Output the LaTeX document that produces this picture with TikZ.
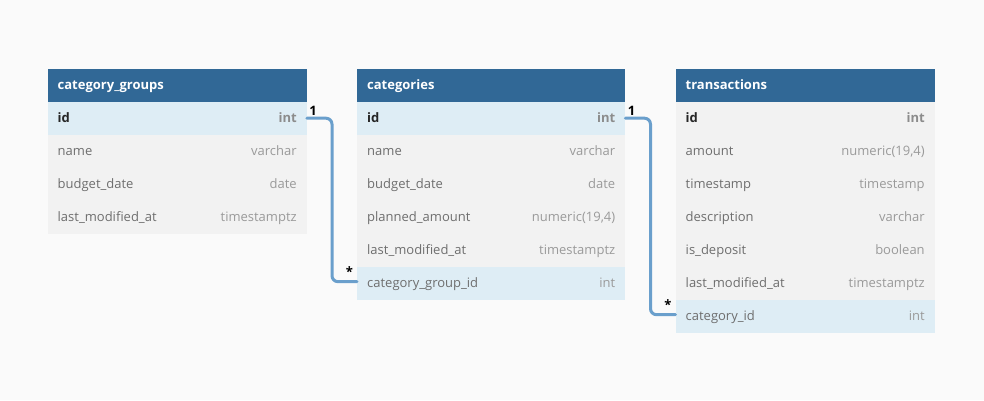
\documentclass[tikz,border=0pt]{standalone}
\usepackage{fontspec}
\setmainfont{Open Sans}
\definecolor{bgcol}{HTML}{FAFAFA}
\definecolor{headcol}{HTML}{316896}
\definecolor{rowcol}{HTML}{F2F2F2}
\definecolor{keycol}{HTML}{DEEDF5}
\definecolor{fieldcol}{HTML}{6E6E6E}
\definecolor{typecol}{HTML}{9A9A9A}
\definecolor{relcol}{HTML}{6A9FCC}
\tikzset{
  tblhead/.style={anchor=north west,inner sep=0pt,minimum width=#1,minimum height=32.5pt,fill=headcol},
  tblrow/.style={anchor=north west,inner sep=0pt,minimum width=#1,minimum height=33pt,fill=rowcol},
  tblkey/.style={tblrow=#1,fill=keycol},
  headtxt/.style={anchor=west,inner sep=0pt,text height=10pt,text depth=2pt,text=white,font=\fontsize{13}{15}\selectfont\bfseries},
  fieldtxt/.style={anchor=west,inner sep=0pt,text height=10pt,text depth=2pt,text=fieldcol,font=\fontsize{13}{15}\selectfont},
  typetxt/.style={anchor=east,inner sep=0pt,text height=10pt,text depth=2pt,text=typecol,font=\fontsize{13}{15}\selectfont},
  idtxt/.style={fieldtxt,text=black!85,font=\fontsize{13}{15}\selectfont\bfseries},
  idtype/.style={typetxt,text=black!45,font=\fontsize{13}{15}\selectfont\bfseries},
  rel/.style={relcol,line width=3pt,rounded corners=6pt},
  card/.style={inner sep=0pt,text=black,font=\fontsize{13}{15}\selectfont\bfseries}
}
\begin{document}
\begin{tikzpicture}[x=1pt,y=-1pt,line cap=round,line join=round]
\fill[bgcol] (0,0) rectangle (984,400);
\useasboundingbox (0,0) rectangle (984,400);
% category_groups
\node[tblhead=259pt] (cg) at (47.5,69) {};
\node[headtxt] (cg-t) at ([xshift=10pt]cg.west) {category\_groups};
\node[tblkey=259pt] (cg-id) at (47.5,101.5) {};
\node[idtxt] (cg-idf) at ([xshift=10pt]cg-id.west) {id};
\node[idtype] (cg-idt) at ([xshift=-10pt]cg-id.east) {int};
\node[tblrow=259pt] (cg-name) at (47.5,134.5) {};
\node[fieldtxt] (cg-namef) at ([xshift=10pt]cg-name.west) {name};
\node[typetxt] (cg-namet) at ([xshift=-10pt]cg-name.east) {varchar};
\node[tblrow=259pt] (cg-date) at (47.5,167.5) {};
\node[fieldtxt] (cg-datef) at ([xshift=10pt]cg-date.west) {budget\_date};
\node[typetxt] (cg-datet) at ([xshift=-10pt]cg-date.east) {date};
\node[tblrow=259pt] (cg-mod) at (47.5,200.5) {};
\node[fieldtxt] (cg-modf) at ([xshift=10pt]cg-mod.west) {last\_modified\_at};
\node[typetxt] (cg-modt) at ([xshift=-10pt]cg-mod.east) {timestamptz};
% categories
\node[tblhead=268pt] (cat) at (357,69) {};
\node[headtxt] (cat-t) at ([xshift=10pt]cat.west) {categories};
\node[tblkey=268pt] (cat-id) at (357,101.5) {};
\node[idtxt] (cat-idf) at ([xshift=10pt]cat-id.west) {id};
\node[idtype] (cat-idt) at ([xshift=-10pt]cat-id.east) {int};
\node[tblrow=268pt] (cat-name) at (357,134.5) {};
\node[fieldtxt] (cat-namef) at ([xshift=10pt]cat-name.west) {name};
\node[typetxt] (cat-namet) at ([xshift=-10pt]cat-name.east) {varchar};
\node[tblrow=268pt] (cat-date) at (357,167.5) {};
\node[fieldtxt] (cat-datef) at ([xshift=10pt]cat-date.west) {budget\_date};
\node[typetxt] (cat-datet) at ([xshift=-10pt]cat-date.east) {date};
\node[tblrow=268pt] (cat-plan) at (357,200.5) {};
\node[fieldtxt] (cat-planf) at ([xshift=10pt]cat-plan.west) {planned\_amount};
\node[typetxt] (cat-plant) at ([xshift=-10pt]cat-plan.east) {numeric(19,4)};
\node[tblrow=268pt] (cat-mod) at (357,233.5) {};
\node[fieldtxt] (cat-modf) at ([xshift=10pt]cat-mod.west) {last\_modified\_at};
\node[typetxt] (cat-modt) at ([xshift=-10pt]cat-mod.east) {timestamptz};
\node[tblkey=268pt] (cat-grp) at (357,266.5) {};
\node[fieldtxt] (cat-grpf) at ([xshift=10pt]cat-grp.west) {category\_group\_id};
\node[typetxt] (cat-grpt) at ([xshift=-10pt]cat-grp.east) {int};
% transactions
\node[tblhead=259pt] (tr) at (675.5,69) {};
\node[headtxt] (tr-t) at ([xshift=10pt]tr.west) {transactions};
\node[tblrow=259pt] (tr-id) at (675.5,101.5) {};
\node[idtxt] (tr-idf) at ([xshift=10pt]tr-id.west) {id};
\node[idtype] (tr-idt) at ([xshift=-10pt]tr-id.east) {int};
\node[tblrow=259pt] (tr-amt) at (675.5,134.5) {};
\node[fieldtxt] (tr-amtf) at ([xshift=10pt]tr-amt.west) {amount};
\node[typetxt] (tr-amtt) at ([xshift=-10pt]tr-amt.east) {numeric(19,4)};
\node[tblrow=259pt] (tr-ts) at (675.5,167.5) {};
\node[fieldtxt] (tr-tsf) at ([xshift=10pt]tr-ts.west) {timestamp};
\node[typetxt] (tr-tst) at ([xshift=-10pt]tr-ts.east) {timestamp};
\node[tblrow=259pt] (tr-desc) at (675.5,200.5) {};
\node[fieldtxt] (tr-descf) at ([xshift=10pt]tr-desc.west) {description};
\node[typetxt] (tr-desct) at ([xshift=-10pt]tr-desc.east) {varchar};
\node[tblrow=259pt] (tr-dep) at (675.5,233.5) {};
\node[fieldtxt] (tr-depf) at ([xshift=10pt]tr-dep.west) {is\_deposit};
\node[typetxt] (tr-dept) at ([xshift=-10pt]tr-dep.east) {boolean};
\node[tblrow=259pt] (tr-mod) at (675.5,266.5) {};
\node[fieldtxt] (tr-modf) at ([xshift=10pt]tr-mod.west) {last\_modified\_at};
\node[typetxt] (tr-modt) at ([xshift=-10pt]tr-mod.east) {timestamptz};
\node[tblkey=259pt] (tr-cat) at (675.5,299.5) {};
\node[fieldtxt] (tr-catf) at ([xshift=10pt]tr-cat.west) {category\_id};
\node[typetxt] (tr-catt) at ([xshift=-10pt]tr-cat.east) {int};
% relations
\coordinate (bend1) at (332,0);
\coordinate (bend2) at (650.5,0);
\draw[rel] (cg-id.east) -- (cg-id.east -| bend1) |- ([yshift=1.5pt]cat-grp.west);
\draw[rel] (cat-id.east) -- (cat-id.east -| bend2) |- ([yshift=1.5pt]tr-cat.west);
\node[card] (c1a) at (313,111) {1};
\node[card] (c1b) at (349.5,272) {*};
\node[card] (c2a) at (631.5,111) {1};
\node[card] (c2b) at (668,305) {*};
\end{tikzpicture}
\end{document}
